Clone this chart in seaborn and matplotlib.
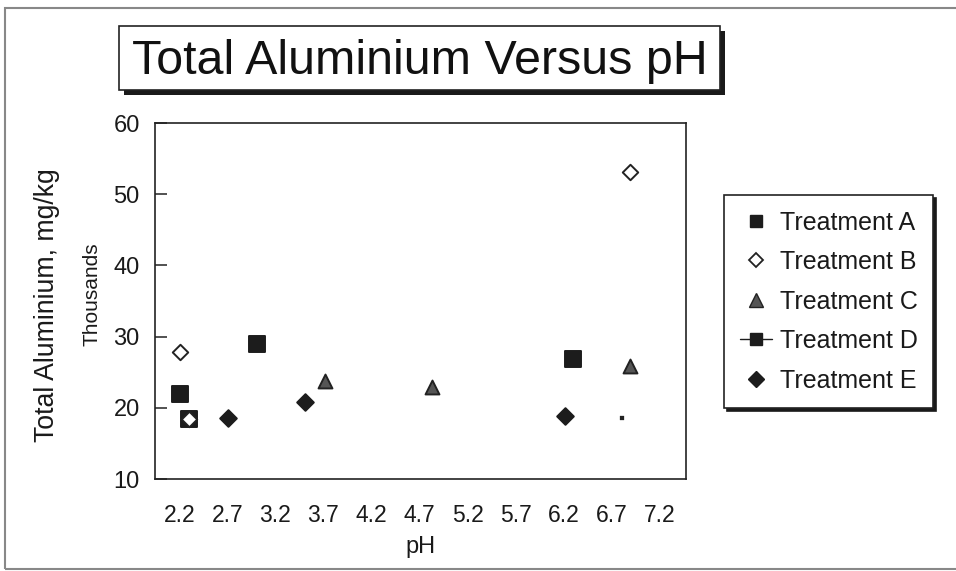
import matplotlib
matplotlib.use("Agg")
import matplotlib.pyplot as plt
from matplotlib.patches import Rectangle
from matplotlib.lines import Line2D
import seaborn as sns
import pandas as pd

# ---- data ----
treatments = ["Treatment A", "Treatment B", "Treatment C", "Treatment D", "Treatment E"]
ph_a = [2.21, 3.01, 6.30]
al_a = [21.9, 29.0, 26.9]
ph_b = [2.21, 2.30, 6.89]
al_b = [27.8, 18.4, 53.1]
ph_c = [3.72, 4.83, 6.89]
al_c = [23.8, 22.9, 25.9]
ph_d = [2.30]
al_d = [18.4]
ph_e = [2.71, 3.51, 6.22]
al_e = [18.6, 20.75, 18.9]
stray_ph = [6.81]
stray_al = [18.6]
x_ticks = [2.2, 2.7, 3.2, 3.7, 4.2, 4.7, 5.2, 5.7, 6.2, 6.7, 7.2]
y_ticks = [10, 20, 30, 40, 50, 60]

sns.set_theme(style="white")
plt.rcParams["font.family"] = ["Liberation Sans", "DejaVu Sans"]

W, H = 956, 571
fig = plt.figure(figsize=(W / 100, H / 100), dpi=100)
fig.patch.set_facecolor("white")


def fx(px):
    return px / W


def fy(py):
    return 1 - py / H


ax = fig.add_axes([fx(155), fy(479), fx(686) - fx(155), fy(123) - fy(479)])
ax.set_facecolor("white")

styles = {
    "Treatment A": dict(marker="s", s=117, color="#1c1c1c", edgecolor="#1c1c1c"),
    "Treatment B": dict(marker="D", s=62, color="white", edgecolor="#222222"),
    "Treatment C": dict(marker="^", s=100, color="#555555", edgecolor="#222222"),
    "Treatment D": dict(marker="s", s=117, color="#1c1c1c", edgecolor="#1c1c1c"),
    "Treatment E": dict(marker="D", s=72, color="#1c1c1c", edgecolor="#1c1c1c"),
}
series = {
    "Treatment A": (ph_a, al_a),
    "Treatment B": (ph_b, al_b),
    "Treatment C": (ph_c, al_c),
    "Treatment D": (ph_d, al_d),
    "Treatment E": (ph_e, al_e),
}
draw_order = ["Treatment A", "Treatment C", "Treatment D", "Treatment E", "Treatment B"]
for name in draw_order:
    xs, ys = series[name]
    df = pd.DataFrame({"pH": xs, "Al": ys})
    st = styles[name]
    sns.scatterplot(data=df, x="pH", y="Al", ax=ax, marker=st["marker"], s=st["s"],
                    color=st["color"], edgecolor=st["edgecolor"], linewidth=1.4,
                    legend=False, zorder=3)
sns.scatterplot(x=stray_ph, y=stray_al, ax=ax, marker="s", s=6, color="#222222",
                edgecolor="#222222", legend=False, zorder=3)

ax.set_xlim(1.947, 7.475)
ax.set_ylim(10, 60)
ax.set_xticks(x_ticks)
ax.set_xticklabels([f"{v:.1f}" for v in x_ticks])
ax.set_yticks(y_ticks)
ax.set_xlabel("")
ax.set_ylabel("")
ax.tick_params(axis="x", length=0, pad=18, labelsize=16.5, labelcolor="#1a1a1a")
ax.tick_params(axis="y", direction="in", length=8.5, width=1.1, color="#222222",
               pad=11, labelsize=17, labelcolor="#1a1a1a", left=True)
for sp in ax.spines.values():
    sp.set_visible(True)
    sp.set_color("#222222")
    sp.set_linewidth(1.2)

# axis labels
fig.text(fx(47), fy(305), "Total Aluminium, mg/kg", rotation=90, ha="center", va="center",
         fontsize=19.2, color="#1a1a1a")
fig.text(fx(92), fy(294), "Thousands", rotation=90, ha="center", va="center",
         fontsize=15, color="#1a1a1a")
fig.text(fx(420.5), fy(547), "pH", ha="center", va="center", fontsize=17, color="#1a1a1a")

# outer frame
fig.patches.append(Rectangle((fx(5), fy(569)), fx(960) - fx(5), fy(8) - fy(569),
                             transform=fig.transFigure, fill=False, edgecolor="#888888",
                             linewidth=1.5, zorder=0))

# title box with shadow
bx0, by0, bx1, by1 = 119, 26, 720, 90
fig.patches.append(Rectangle((fx(bx0 + 5), fy(by1 + 5)), fx(bx1) - fx(bx0), fy(by0) - fy(by1),
                             transform=fig.transFigure, facecolor="#1a1a1a", edgecolor="none",
                             zorder=1))
fig.patches.append(Rectangle((fx(bx0), fy(by1)), fx(bx1) - fx(bx0), fy(by0) - fy(by1),
                             transform=fig.transFigure, facecolor="white", edgecolor="#222222",
                             linewidth=1.2, zorder=2))
fig.text(fx(132), fy(74), "Total Aluminium Versus pH", ha="left", va="baseline",
         fontsize=34.8, color="#111111", zorder=3)

# legend
handles = [
    Line2D([], [], marker="s", linestyle="none", markersize=9, color="#1c1c1c"),
    Line2D([], [], marker="D", linestyle="none", markersize=7, markerfacecolor="white",
           markeredgecolor="#222222", markeredgewidth=1.3),
    Line2D([], [], marker="^", linestyle="none", markersize=10, markerfacecolor="#555555",
           markeredgecolor="#222222"),
    Line2D([], [], marker="s", linestyle="-", linewidth=1.0, markersize=9, color="#1c1c1c"),
    Line2D([], [], marker="D", linestyle="none", markersize=8, color="#1c1c1c"),
]
leg = fig.legend(handles, treatments, loc="upper left", bbox_to_anchor=(fx(724), fy(195)),
                 bbox_transform=fig.transFigure, borderaxespad=0, fontsize=18,
                 frameon=True, fancybox=False, shadow={"color": "#1a1a1a", "alpha": 1},
                 borderpad=0.62, labelspacing=0.62, handlelength=1.3, handletextpad=0.3)
leg.get_frame().set_edgecolor("#222222")
leg.get_frame().set_linewidth(1.2)
for t in leg.get_texts():
    t.set_color("#1a1a1a")

fig.savefig("out.png", dpi=100, facecolor="white")
